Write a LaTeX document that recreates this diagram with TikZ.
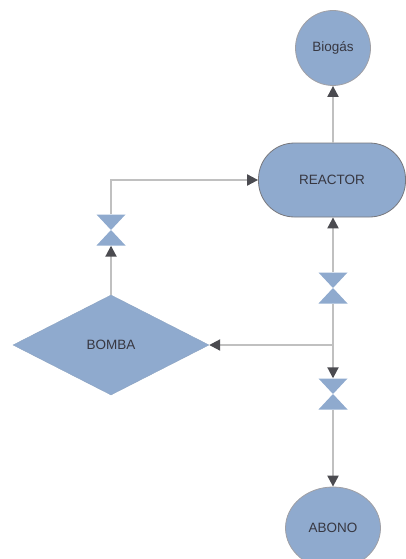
\documentclass[tikz,border=0pt]{standalone}
\usepackage{fontspec}
\setmainfont{Liberation Sans}
\usetikzlibrary{arrows.meta,shapes.geometric}
\definecolor{procblue} {RGB}{143,170,206}
\definecolor{procedge} {RGB}{160,160,165}
\definecolor{tankedge} {RGB}{120,120,125}
\definecolor{pipegray} {RGB}{192,192,192}
\definecolor{tipgray}  {RGB}{75, 75, 80}
\definecolor{labelgray}{RGB}{55, 55, 65}

\begin{document}
\begin{tikzpicture}[x=1pt,y=-1pt,
  every node/.style={font=\fontsize{13.5}{15}\selectfont,text=labelgray},
  gasnode/.style={circle,draw=procedge,thick,fill=procblue,
                  minimum size=75pt,inner sep=0pt},
  tank/.style={draw=tankedge,thick,fill=procblue,rounded corners=36pt,
               minimum width=147pt,minimum height=74pt,inner sep=0pt},
  pump/.style={diamond,draw=procblue!85!gray,fill=procblue,
               minimum width=196pt,minimum height=100pt,inner sep=0pt},
  outnode/.style={ellipse,draw=procedge,thick,fill=procblue,
                  minimum width=95pt,minimum height=82pt,inner sep=0pt},
  valve/.style={minimum width=29pt,minimum height=31pt,inner sep=0pt,
    path picture={\fill[procblue]
      (path picture bounding box.north west) -- (path picture bounding box.north east)
      -- (path picture bounding box.south west) -- (path picture bounding box.south east)
      -- cycle;}},
  pipe/.style={draw=pipegray,line width=2pt},
  flow/.style={pipe,-{Triangle[width=11pt,length=11pt,color=tipgray]}},
]
\useasboundingbox (0,0) rectangle (406,559);

%% Process units
\node[gasnode] (biogas)  at (333,48)  {Biogás};
\node[tank]    (reactor) at (332,180) {REACTOR};
\node[pump]    (bomba)   at (111,345) {BOMBA};
\node[outnode] (abono)   at (333,528) {ABONO};

%% Valves
\node[valve] (vL) at (111,230) {};
\node[valve] (v1) at (333,288) {};
\node[valve] (v2) at (333,394) {};

%% Pipe junction
\coordinate (junc) at (333,345);

%% Connectors
\draw[flow] (reactor.north -| biogas) -- (biogas.south);
\draw[flow] (bomba.north) -- (vL.south);
\draw[flow] (vL.north) |- (reactor.west);
\draw[flow] (v1.north) -- (reactor.south -| v1);
\draw[pipe] (v1.south) -- (junc);
\draw[flow] (junc) -- (bomba.east);
\draw[flow] (junc) -- (v2.north);
\draw[flow] (v2.south) -- (abono.north);

\end{tikzpicture}
\end{document}
